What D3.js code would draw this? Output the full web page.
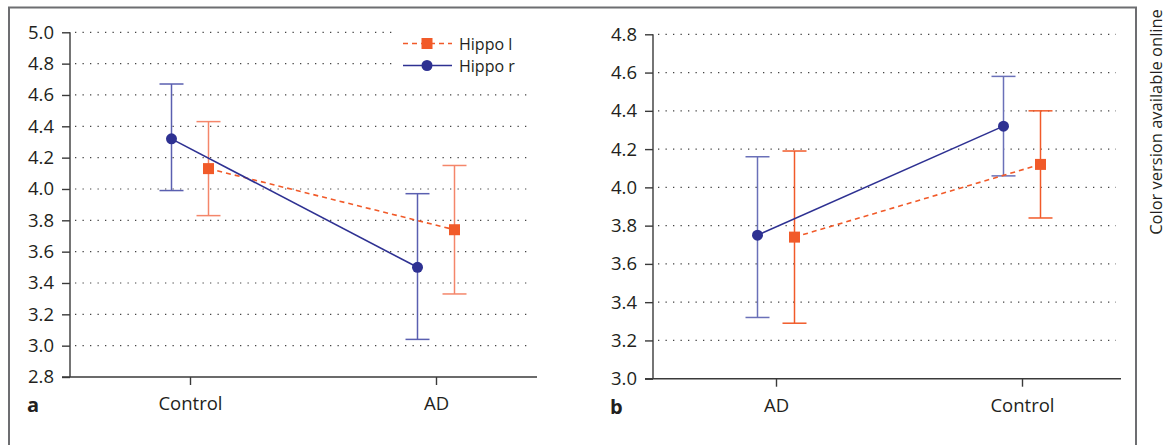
<!DOCTYPE html>
<html>
<head>
<meta charset="utf-8">
<script src="https://cdn.jsdelivr.net/npm/d3@7"></script>
<style>
  body { margin: 0; background: #fff; }
  svg { display: block; font-family: "Open Sans", "Noto Sans", sans-serif; }
</style>
</head>
<body>
<div id="viz"></div>
<script>
const width = 1170;
const height = 445;

// panel a: Control vs AD
const categoriesA = ['Control', 'AD'];
const hippoLA = [4.13, 3.74];
const hippoLALow = [3.83, 3.33];
const hippoLAHigh = [4.43, 4.15];
const hippoRA = [4.32, 3.50];
const hippoRALow = [3.99, 3.04];
const hippoRAHigh = [4.67, 3.97];
const yTicksA = [2.8, 3.0, 3.2, 3.4, 3.6, 3.8, 4.0, 4.2, 4.4, 4.6, 4.8, 5.0];

// panel b: AD vs Control
const categoriesB = ['AD', 'Control'];
const hippoLB = [3.74, 4.12];
const hippoLBLow = [3.29, 3.84];
const hippoLBHigh = [4.19, 4.40];
const hippoRB = [3.75, 4.32];
const hippoRBLow = [3.32, 4.06];
const hippoRBHigh = [4.16, 4.58];
const yTicksB = [3.0, 3.2, 3.4, 3.6, 3.8, 4.0, 4.2, 4.4, 4.6, 4.8];

const seriesNames = ['Hippo l', 'Hippo r'];

const blue = '#2e3192';
const orange = '#f15a29';
const textColor = '#231f20';

const svg = d3.select('#viz')
  .append('svg')
  .attr('width', width)
  .attr('height', height)
  .attr('viewBox', `0 0 ${width} ${height}`);

// outer frame (open at the bottom)
svg.append('path')
  .attr('d', `M9,${height} V7.5 H1136 V${height}`)
  .attr('fill', 'none')
  .attr('stroke', '#6d6e71')
  .attr('stroke-width', 2);

const drawPanel = (opts) => {
  const g = svg.append('g');
  const y = d3.scaleLinear().domain(opts.yDomain).range([opts.bottom, opts.top]);
  const x = d3.scalePoint().domain(opts.categories).range(opts.xRange);

  // dotted gridlines
  g.selectAll('.grid')
    .data(opts.yTicks.slice(1))
    .join('line')
    .attr('x1', opts.axisX + 5)
    .attr('x2', opts.right - 5)
    .attr('y1', d => y(d))
    .attr('y2', d => y(d))
    .attr('stroke', '#444')
    .attr('stroke-width', 1.2)
    .attr('stroke-dasharray', '1.3,6.2');

  // y axis
  const yAxis = d3.axisLeft(y)
    .tickValues(opts.yTicks)
    .tickFormat(d3.format('.1f'))
    .tickSize(8)
    .tickPadding(8);
  const ya = g.append('g')
    .attr('transform', `translate(${opts.axisX},0)`)
    .call(yAxis);
  ya.select('.domain').attr('d', `M0,${opts.top}V${opts.bottom}`);
  ya.selectAll('path, line').attr('stroke', '#3a3a3a').attr('stroke-width', 1.4);
  ya.selectAll('text').attr('font-size', 18.5).attr('fill', textColor)
    .attr('font-family', '"Open Sans", sans-serif');

  // x axis
  const xAxis = d3.axisBottom(x).tickSize(8).tickPadding(12);
  const xa = g.append('g')
    .attr('transform', `translate(0,${opts.bottom})`)
    .call(xAxis);
  xa.select('.domain').attr('d', `M${opts.axisX - 8},0H${opts.right}`);
  xa.selectAll('path, line').attr('stroke', '#3a3a3a').attr('stroke-width', 1.4);
  xa.selectAll('text').attr('font-size', 18.5).attr('fill', textColor)
    .attr('font-family', '"Open Sans", sans-serif');

  // panel letter
  g.append('text')
    .attr('x', opts.letterX)
    .attr('y', opts.bottom + 35)
    .attr('font-size', 20)
    .attr('font-weight', 'bold')
    .attr('fill', textColor)
    .text(opts.letter);

  const series = [
    {name: seriesNames[0], vals: opts.l, lo: opts.lLow, hi: opts.lHigh, color: orange,
     barColor: opts.lBarColor, dx: opts.offset, dash: '5,4', shape: 'square'},
    {name: seriesNames[1], vals: opts.r, lo: opts.rLow, hi: opts.rHigh, color: blue,
     barColor: opts.rBarColor, dx: -opts.offset, dash: null, shape: 'circle'}
  ];

  // error bars
  series.forEach(s => {
    const eg = g.append('g').attr('stroke', s.barColor).attr('stroke-width', 1.5);
    opts.categories.forEach((c, i) => {
      const cx = x(c) + s.dx;
      eg.append('line').attr('x1', cx).attr('x2', cx)
        .attr('y1', y(s.lo[i])).attr('y2', y(s.hi[i]));
      [s.lo[i], s.hi[i]].forEach(v => {
        eg.append('line').attr('x1', cx - 12).attr('x2', cx + 12)
          .attr('y1', y(v)).attr('y2', y(v));
      });
    });
  });

  // connecting lines
  series.forEach(s => {
    const line = d3.line()
      .x((d, i) => x(opts.categories[i]) + s.dx)
      .y(d => y(d));
    g.append('path')
      .datum(s.vals)
      .attr('d', line)
      .attr('fill', 'none')
      .attr('stroke', s.color)
      .attr('stroke-width', 1.6)
      .attr('stroke-dasharray', s.dash);
  });

  // markers
  series.forEach(s => {
    s.vals.forEach((v, i) => {
      const cx = x(opts.categories[i]) + s.dx;
      if (s.shape === 'circle') {
        g.append('circle').attr('cx', cx).attr('cy', y(v)).attr('r', 5.5).attr('fill', s.color);
      } else {
        g.append('rect').attr('x', cx - 5.5).attr('y', y(v) - 5.5)
          .attr('width', 11).attr('height', 11).attr('fill', s.color);
      }
    });
  });

  return series;
};

const seriesA = drawPanel({
  letter: 'a', letterX: 27,
  categories: categoriesA, xRange: [190, 436],
  axisX: 70, right: 537, top: 32.3, bottom: 377,
  yDomain: [2.8, 5.0], yTicks: yTicksA,
  l: hippoLA, lLow: hippoLALow, lHigh: hippoLAHigh,
  r: hippoRA, rLow: hippoRALow, rHigh: hippoRAHigh,
  lBarColor: '#f4866a', rBarColor: '#5a5fb0', offset: 18.5
});

drawPanel({
  letter: 'b', letterX: 610,
  categories: categoriesB, xRange: [776, 1022],
  axisX: 653, right: 1121, top: 34.3, bottom: 378.7,
  yDomain: [3.0, 4.8], yTicks: yTicksB,
  l: hippoLB, lLow: hippoLBLow, lHigh: hippoLBHigh,
  r: hippoRB, rLow: hippoRBLow, rHigh: hippoRBHigh,
  lBarColor: '#f15a29', rBarColor: '#6a70b8', offset: 18.5
});

// legend in panel a
const legend = svg.append('g');
legend.append('rect')
  .attr('x', 394).attr('y', 26).attr('width', 134).attr('height', 52)
  .attr('fill', '#fff');
seriesA.forEach((s, i) => {
  const ly = 43.5 + i * 22;
  legend.append('line')
    .attr('x1', 403).attr('x2', 452).attr('y1', ly).attr('y2', ly)
    .attr('stroke', s.color).attr('stroke-width', 1.6)
    .attr('stroke-dasharray', s.dash);
  if (s.shape === 'circle') {
    legend.append('circle').attr('cx', 427).attr('cy', ly).attr('r', 5.5).attr('fill', s.color);
  } else {
    legend.append('rect').attr('x', 421.5).attr('y', ly - 5.5)
      .attr('width', 11).attr('height', 11).attr('fill', s.color);
  }
  legend.append('text')
    .attr('x', 459).attr('y', ly + 6)
    .attr('font-size', 16)
    .attr('fill', textColor)
    .text(s.name);
});

// side note
svg.append('text')
  .attr('transform', 'translate(1162,122) rotate(-90)')
  .attr('text-anchor', 'middle')
  .attr('font-size', 16.5)
  .attr('fill', textColor)
  .text('Color version available online');
</script>
</body>
</html>
